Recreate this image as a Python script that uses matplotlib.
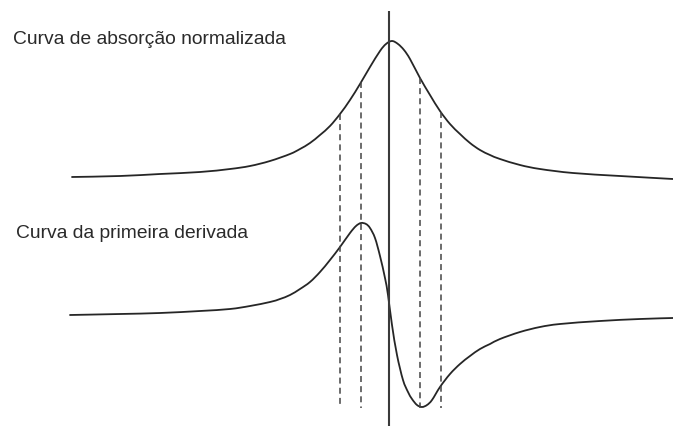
import numpy as np
import matplotlib.pyplot as plt
from matplotlib.path import Path
from matplotlib.patches import PathPatch

plt.rcParams['font.family'] = ['Liberation Sans', 'DejaVu Sans']
plt.rcParams['lines.scale_dashes'] = False

# absorption curve (normalised), traced in screen units (y grows downwards)
abs_x = [72, 120, 160, 200, 230, 250, 270, 290, 300, 310, 320, 330, 340, 350,
         360, 370, 380, 386, 392, 398, 404, 410, 420, 430, 440, 450, 460,
         470, 480, 490, 500, 520, 540, 573, 620, 673]
abs_y = [177, 176, 174, 172, 169, 166, 161, 154, 149, 143, 135, 126, 114, 100,
         84, 67, 51, 44, 41, 44, 50, 59, 78, 95, 111, 124, 134,
         143, 150, 155, 159, 165, 169, 173, 176, 179]

# first derivative curve
der_x = [70, 120, 160, 200, 230, 250, 270, 280, 290, 300, 310, 320, 330, 340,
         350, 356, 361, 366, 370, 375, 380, 385, 388, 392, 397, 403, 408,
         412, 417, 422, 427, 432, 440, 450, 460, 470, 480, 490, 500, 520,
         540, 560, 600, 640, 673]
der_y = [315, 314, 313, 311, 309, 306, 302, 299, 295, 289, 282, 272, 260, 247,
         233, 226, 223, 224, 228, 238, 256, 278, 295, 325, 355, 380, 392,
         399, 405, 407, 405, 400, 387, 374, 364, 356, 349, 344, 339, 332,
         327, 324, 321, 319, 318]

# resonance centre and the marker positions either side of it
centre_x = 389
marks_x = [340, 361, 420, 441]
marks_bottom = 408


def smooth_path(xs, ys):
    # Catmull-Rom through the traced points, handed to matplotlib as Bezier segments
    p = np.column_stack([xs, ys]).astype(float)
    verts = [p[0]]
    codes = [Path.MOVETO]
    n = len(p)
    for i in range(n - 1):
        p0 = p[i - 1] if i > 0 else p[i]
        p1 = p[i]
        p2 = p[i + 1]
        p3 = p[i + 2] if i + 2 < n else p[i + 1]
        c1 = p1 + (p2 - p0) / 6.0
        c2 = p2 - (p3 - p1) / 6.0
        verts += [c1, c2, p2]
        codes += [Path.CURVE4] * 3
    return Path(verts, codes)


fig = plt.figure(figsize=(6.73, 4.26), dpi=100)
ax = fig.add_axes([0, 0, 1, 1])
ax.set_xlim(0, 673)
ax.set_ylim(426, 0)
ax.axis('off')

for xs, ys in [(abs_x, abs_y), (der_x, der_y)]:
    ax.add_patch(PathPatch(smooth_path(xs, ys), facecolor='none',
                           edgecolor='#262626', lw=1.3, capstyle='round'))

ax.vlines(centre_x, 11, 426, color='#3a3a3a', lw=1.5)

tops = np.interp(marks_x, abs_x, abs_y)
for mx, top in zip(marks_x, tops):
    ax.plot([mx, mx], [top, marks_bottom], color='#444444', lw=1.1,
            dashes=(4.3, 3.0))

ax.text(13, 43.5, 'Curva de absorção normalizada', fontsize=13.9,
        color='#2a2a2a', va='baseline', ha='left')
ax.text(16, 237.5, 'Curva da primeira derivada', fontsize=13.9,
        color='#2a2a2a', va='baseline', ha='left')

fig.savefig('out.png', dpi=100)
